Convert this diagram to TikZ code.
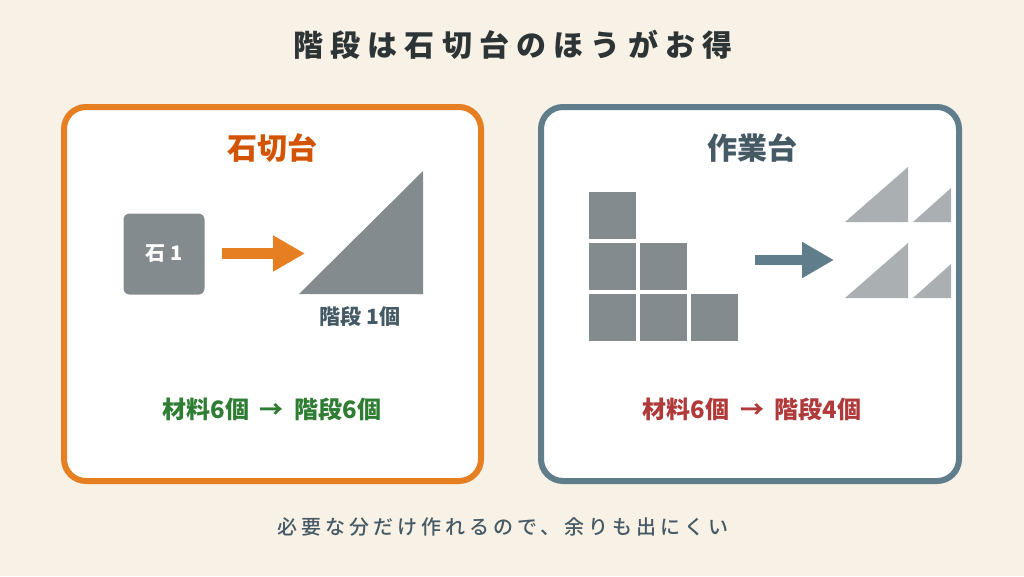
\documentclass[tikz,border=0pt]{standalone}
\usepackage{fontspec}
\setmainfont{Noto Sans CJK JP}
\newfontfamily\notefont[LetterSpace=20]{Noto Sans CJK JP Medium}
\usepackage{xcolor}
\usepackage{tikz}
\usetikzlibrary{arrows.meta}
\definecolor{cream}{HTML}{F8F1E6}
\definecolor{cutter}{HTML}{E67E22}
\definecolor{cutterdark}{HTML}{D35400}
\definecolor{bench}{HTML}{607D8B}
\definecolor{benchdark}{HTML}{455A64}
\definecolor{stonegray}{HTML}{848B8E}
\definecolor{chipgray}{HTML}{AAB0B2}
\definecolor{goodgreen}{HTML}{2E7D32}
\definecolor{badred}{HTML}{B03A3A}
\definecolor{inkdark}{HTML}{2D3436}

\tikzset{
  panel/.style={line width=6pt, rounded corners=22pt, fill=white},
  stonebox/.style={fill=stonegray, rounded corners=6pt, minimum size=81pt,
    text=white, font=\fontsize{20}{24}\selectfont\bfseries},
  heading/.style={font=\fontsize{30}{36}\selectfont\bfseries},
  result/.style={font=\fontsize{24}{28}\selectfont\bfseries},
  blockarrow/.style={draw=#1, line width=11pt,
    -{Triangle[width=34pt,length=32pt]}}
}

\begin{document}
\begin{tikzpicture}[x=1pt,y=-1pt]
\fill[cream] (0,0) rectangle (1024,576);
\useasboundingbox (0,0) rectangle (1024,576);

\node[text=inkdark, font=\fontsize{30}{36}\selectfont\bfseries\addfontfeature{LetterSpace=24}] (title) at (513,45) {階段は石切台のほうがお得};

% left: stonecutter
\draw[panel, draw=cutter] (64,107) rectangle (481,481);
\node[heading, text=cutterdark] (cuttername) at (272,148) {石切台};
\node[stonebox] (stone) at (164,254) {石 1};
\fill[stonegray] (299,294) -- (423,294) -- (423,171) -- cycle;
\node[text=benchdark, font=\fontsize{21}{25}\selectfont\bfseries] (stairone) at (360,317) {階段 1個};
\coordinate (cutfrom) at (222,253.5);
\coordinate (cutto) at (305,253.5);
\draw[blockarrow=cutter] (cutfrom) -- (cutto);
\node[result, text=goodgreen] (cutresult) at (272,409) {材料6個\hspace{5pt} → \hspace{5pt}階段6個};

% right: crafting table
\draw[panel, draw=bench] (541,107) rectangle (959,481);
\node[heading, text=benchdark] (benchname) at (752,148) {作業台};
\foreach \c/\r in {0/0,0/1,1/1,0/2,1/2,2/2}
  \fill[stonegray] (589+51*\c,192+51*\r) rectangle ++(47,47);
\coordinate (benchfrom) at (755,260);
\coordinate (benchto) at (834,260);
\draw[blockarrow=bench, line width=10pt] (benchfrom) -- (benchto);
\foreach \y in {222,298} {
  \fill[chipgray] (845,\y) -- (908,\y) -- (908,\y-55) -- cycle;
  \fill[chipgray] (913,\y) -- (951,\y) -- (951,\y-34) -- cycle;
}
\node[result, text=badred] (benchresult) at (752,409) {材料6個\hspace{5pt} → \hspace{5pt}階段4個};

\node[text=benchdark, font=\fontsize{20}{24}\notefont] (note) at (503,527) {必要な分だけ作れるので、余りも出にくい};
\end{tikzpicture}
\end{document}
